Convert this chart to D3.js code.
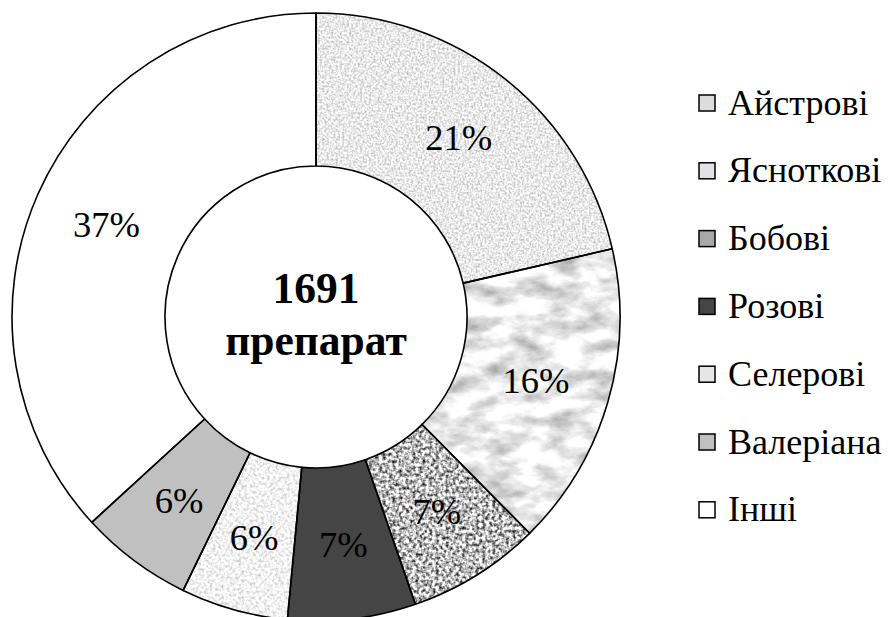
<!DOCTYPE html>
<html><head><meta charset="utf-8">
<script src="https://cdn.jsdelivr.net/npm/d3@7"></script>
<style>html,body{margin:0;padding:0;background:#fff;}svg{display:block;}
svg text{font-family:"Liberation Serif","Times New Roman",serif;}</style>
</head><body>
<script>
const categories = ["Айстрові","Ясноткові","Бобові","Розові","Селерові","Валеріана","Інші"];
const shares = [21.4, 16.2, 7.1, 6.8, 5.7, 6.0, 36.8];
const labels = ["21%","16%","7%","7%","6%","6%","37%"];
const centerLines = ["1691","препарат"];

const W = 889, H = 617;
const cx = 316, cy = 317, R = 304, r0 = 151, rLab = 229;

const svg = d3.select("body").append("svg").attr("width", W).attr("height", H);
const defs = svg.append("defs");

const tex = [
  {type:"noise", freq:"0.45", oct:2, k:0.55, b:0.64, legend:"#dcdcdc"},
  {type:"noise", freq:"0.03 0.06", oct:5, k:0.7, b:0.57, legend:"#e2e2e6"},
  {type:"noise", freq:"0.3", oct:2, k:1.9, b:-0.22, legend:"#a8a8a8"},
  {type:"solid", color:"#454545"},
  {type:"noise", freq:"0.35", oct:2, k:0.5, b:0.7, legend:"#e6e6e6"},
  {type:"solid", color:"#c0c0c0"},
  {type:"solid", color:"#ffffff"}
];
tex.forEach((t,i)=>{
  if(t.type!=="noise") return;
  const f = defs.append("filter").attr("id","tex"+i)
    .attr("x","-5%").attr("y","-5%").attr("width","110%").attr("height","110%")
    .attr("color-interpolation-filters","sRGB");
  f.append("feTurbulence").attr("type","fractalNoise").attr("baseFrequency",t.freq)
    .attr("numOctaves",t.oct).attr("seed",i*7+3).attr("result","n");
  const row = `${t.k} 0 0 0 ${t.b}`;
  f.append("feColorMatrix").attr("in","n").attr("type","matrix")
    .attr("values",`${row} ${row} ${row} 0 0 0 0 1`).attr("result","g");
  f.append("feComposite").attr("in","g").attr("in2","SourceGraphic").attr("operator","in");
});

const pie = d3.pie().value(d=>d).sort(null);
const arcs = pie(shares);
const arc = d3.arc().innerRadius(r0).outerRadius(R);
const labArc = d3.arc().innerRadius(rLab).outerRadius(rLab);

const g = svg.append("g").attr("transform",`translate(${cx},${cy})`);
g.selectAll("path.fill").data(arcs).join("path").attr("class","fill")
  .attr("d",arc)
  .attr("fill",(d,i)=>tex[i].type==="solid"?tex[i].color:"#000")
  .attr("filter",(d,i)=>tex[i].type==="noise"?`url(#tex${i})`:null);
g.selectAll("path.edge").data(arcs).join("path").attr("class","edge")
  .attr("d",arc).attr("fill","none").attr("stroke","#000").attr("stroke-width",1.6)
  .attr("stroke-linejoin","round");

g.selectAll("text.lab").data(arcs).join("text").attr("class","lab")
  .attr("x",d=>labArc.centroid(d)[0]).attr("y",d=>labArc.centroid(d)[1]+12.5)
  .attr("text-anchor","middle").attr("font-size",36.5)
  .attr("fill","#000").text((d,i)=>labels[i]);

g.selectAll("text.center").data(centerLines).join("text").attr("class","center")
  .attr("x",0).attr("y",(d,i)=>-14+i*52)
  .attr("text-anchor","middle").attr("font-weight","bold").attr("font-size",43.5)
  .attr("fill","#000").text(d=>d);

// legend
const lx = 699, ly0 = 103, ldy = 67.8, sq = 16;
const lg = svg.append("g");
const items = lg.selectAll("g").data(categories).join("g")
  .attr("transform",(d,i)=>`translate(${lx},${ly0+i*ldy})`);
items.append("rect").attr("x",0).attr("y",-sq/2).attr("width",sq).attr("height",sq)
  .attr("fill",(d,i)=>tex[i].type==="solid"?tex[i].color:tex[i].legend);
items.append("rect").attr("x",0).attr("y",-sq/2).attr("width",sq).attr("height",sq)
  .attr("fill","none").attr("stroke","#000").attr("stroke-width",1.5);
items.append("text").attr("x",29).attr("y",11.5).attr("font-size",36)
  .attr("fill","#000").text(d=>d);
</script>
</body></html>
